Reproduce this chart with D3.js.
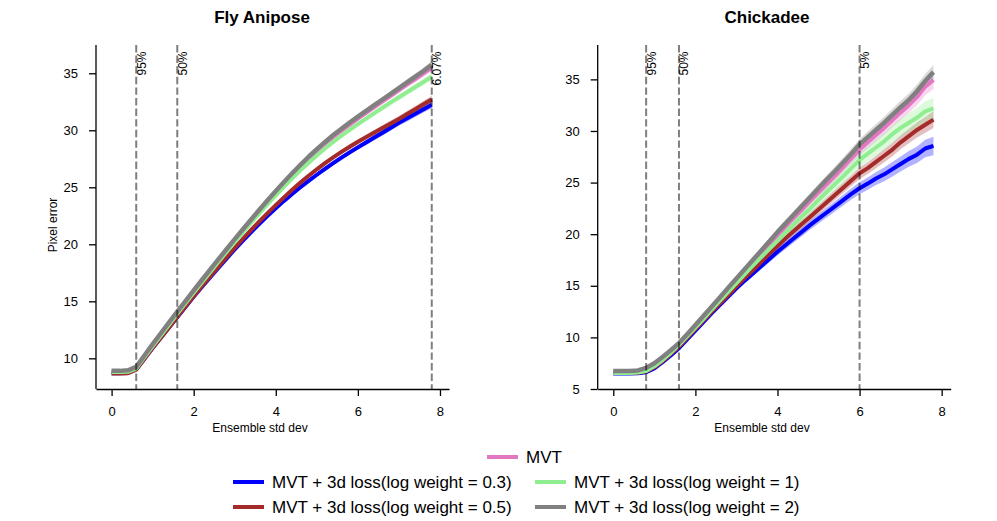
<!DOCTYPE html>
<html>
<head>
<meta charset="utf-8">
<script src="https://cdn.jsdelivr.net/npm/d3@7"></script>
<style>
body { margin: 0; background: #fff; }
svg { font-family: "Liberation Sans", Arial, sans-serif; }
</style>
</head>
<body>
<svg id="chart" width="997" height="521"></svg>
<script>
var stdDev = [0, 0.2, 0.4, 0.6, 0.8, 1.0, 1.2, 1.4, 1.6, 1.8, 2.0, 2.2, 2.4, 2.6, 2.8, 3.0, 3.2, 3.4, 3.6, 3.8,
              4.0, 4.2, 4.4, 4.6, 4.8, 5.0, 5.2, 5.4, 5.6, 5.8, 6.0, 6.2, 6.4, 6.6, 6.8, 7.0, 7.2, 7.4, 7.6, 7.8];

var seriesLabels = ["MVT", "MVT + 3d loss(log weight = 0.3)", "MVT + 3d loss(log weight = 0.5)",
                    "MVT + 3d loss(log weight = 1)", "MVT + 3d loss(log weight = 2)"];
var seriesColors = ["#e377c2", "#0000ff", "#a52a2a", "#90ee90", "#808080"];

var xTicks = [0, 2, 4, 6, 8];

// Fly Anipose
var flyMvt = [8.85, 8.85, 8.9, 9.2, 10.2, 11.2, 12.15, 13.1, 14.05, 14.97, 15.9, 16.8, 17.7, 18.6, 19.5,
              20.38, 21.24, 22.09, 22.93, 23.75, 24.55, 25.33, 26.09, 26.82, 27.52, 28.18, 28.82, 29.41, 29.96, 30.5,
              31.03, 31.53, 32.03, 32.53, 33.03, 33.53, 34.02, 34.5, 35.0, 35.5];
var flyW03 = [8.7, 8.7, 8.72, 9.02, 9.95, 10.9, 11.8, 12.7, 13.6, 14.5, 15.4, 16.25, 17.1, 17.93, 18.75,
              19.55, 20.33, 21.08, 21.8, 22.5, 23.17, 23.81, 24.42, 25.0, 25.56, 26.1, 26.62, 27.12, 27.6, 28.06,
              28.5, 28.93, 29.36, 29.79, 30.22, 30.65, 31.05, 31.45, 31.85, 32.25];
var flyW05 = [8.68, 8.68, 8.7, 9.0, 9.95, 10.9, 11.8, 12.7, 13.65, 14.55, 15.45, 16.32, 17.18, 18.03, 18.87,
              19.69, 20.49, 21.27, 22.02, 22.74, 23.44, 24.12, 24.78, 25.41, 26.01, 26.58, 27.12, 27.63, 28.11, 28.56,
              28.99, 29.4, 29.8, 30.2, 30.6, 31.0, 31.42, 31.85, 32.28, 32.7];
var flyW1 = [8.8, 8.8, 8.82, 9.1, 10.1, 11.05, 12.0, 12.95, 13.9, 14.82, 15.75, 16.66, 17.56, 18.45, 19.33,
             20.2, 21.05, 21.89, 22.71, 23.51, 24.29, 25.05, 25.78, 26.48, 27.15, 27.79, 28.4, 28.98, 29.52, 30.04,
             30.54, 31.02, 31.5, 31.98, 32.45, 32.9, 33.35, 33.8, 34.25, 34.7];
var flyW2 = [8.9, 8.9, 8.95, 9.25, 10.25, 11.25, 12.2, 13.15, 14.1, 15.02, 15.95, 16.87, 17.78, 18.68, 19.57,
             20.45, 21.32, 22.18, 23.03, 23.86, 24.67, 25.46, 26.23, 26.97, 27.68, 28.35, 28.98, 29.58, 30.14, 30.68,
             31.2, 31.7, 32.2, 32.7, 33.2, 33.7, 34.2, 34.7, 35.2, 35.75];
var flyBand = [0.06, 0.06, 0.06, 0.06, 0.07, 0.07, 0.08, 0.08, 0.09, 0.09, 0.1, 0.1, 0.11, 0.11, 0.12,
               0.12, 0.13, 0.13, 0.14, 0.14, 0.15, 0.15, 0.16, 0.16, 0.17, 0.17, 0.18, 0.18, 0.19, 0.2,
               0.21, 0.22, 0.23, 0.24, 0.25, 0.26, 0.27, 0.28, 0.3, 0.32];
var flyCutoffs = [0.6, 1.6, 7.8];
var flyCutoffLabels = ["95%", "50%", "6.07%"];
var flyYTicks = [10, 15, 20, 25, 30, 35];

// Chickadee
var chickMvt = [6.7, 6.7, 6.7, 6.75, 7.0, 7.45, 8.05, 8.7, 9.4, 10.25, 11.1, 12.0, 12.9, 13.8, 14.65,
                15.55, 16.4, 17.3, 18.15, 19.0, 19.9, 20.75, 21.6, 22.4, 23.25, 24.05, 24.85, 25.65, 26.5, 27.35,
                28.2, 28.9, 29.6, 30.3, 31.05, 31.8, 32.5, 33.3, 34.3, 34.95];
var chickW03 = [6.5, 6.5, 6.5, 6.52, 6.62, 7.0, 7.6, 8.25, 8.95, 9.8, 10.65, 11.5, 12.35, 13.15, 13.95,
                14.75, 15.5, 16.2, 16.9, 17.6, 18.3, 18.95, 19.6, 20.25, 20.9, 21.5, 22.1, 22.7, 23.3, 23.9,
                24.45, 24.9, 25.4, 25.8, 26.3, 26.8, 27.3, 27.7, 28.3, 28.55];
var chickW05 = [6.55, 6.55, 6.55, 6.58, 6.7, 7.1, 7.7, 8.4, 9.1, 9.95, 10.8, 11.65, 12.5, 13.3, 14.1,
                14.95, 15.75, 16.5, 17.3, 18.1, 18.85, 19.6, 20.3, 21.0, 21.7, 22.4, 23.1, 23.8, 24.5, 25.2,
                25.9, 26.4, 27.0, 27.6, 28.2, 28.9, 29.5, 30.1, 30.6, 31.1];
var chickW1 = [6.55, 6.55, 6.55, 6.6, 6.75, 7.2, 7.8, 8.5, 9.25, 10.1, 10.95, 11.8, 12.7, 13.55, 14.4,
               15.25, 16.1, 16.95, 17.75, 18.55, 19.35, 20.15, 20.95, 21.75, 22.5, 23.3, 24.1, 24.85, 25.6, 26.4,
               27.2, 27.8, 28.4, 29.0, 29.7, 30.3, 30.8, 31.3, 31.9, 32.2];
var chickW2 = [6.75, 6.75, 6.75, 6.8, 7.05, 7.5, 8.1, 8.75, 9.45, 10.3, 11.2, 12.1, 13.0, 13.9, 14.8,
               15.7, 16.6, 17.5, 18.4, 19.3, 20.2, 21.05, 21.9, 22.75, 23.6, 24.45, 25.3, 26.1, 26.95, 27.8,
               28.7, 29.4, 30.1, 30.8, 31.55, 32.3, 33.0, 33.85, 34.85, 35.7];
var chickBandMvt = [0.05, 0.05, 0.05, 0.05, 0.06, 0.07, 0.08, 0.1, 0.12, 0.14, 0.16, 0.18, 0.2, 0.22, 0.24,
                    0.26, 0.28, 0.3, 0.32, 0.34, 0.36, 0.38, 0.4, 0.42, 0.44, 0.46, 0.48, 0.5, 0.52, 0.55,
                    0.58, 0.6, 0.63, 0.66, 0.7, 0.73, 0.76, 0.8, 0.84, 0.88];
var chickBandW03 = [0.05, 0.05, 0.05, 0.05, 0.06, 0.07, 0.08, 0.1, 0.12, 0.14, 0.16, 0.18, 0.2, 0.22, 0.24,
                    0.26, 0.28, 0.3, 0.32, 0.34, 0.36, 0.38, 0.4, 0.42, 0.44, 0.46, 0.48, 0.5, 0.52, 0.55,
                    0.58, 0.6, 0.63, 0.66, 0.7, 0.73, 0.77, 0.8, 0.85, 0.9];
var chickBandW05 = [0.05, 0.05, 0.05, 0.05, 0.06, 0.07, 0.08, 0.09, 0.1, 0.12, 0.14, 0.16, 0.18, 0.2, 0.22,
                    0.24, 0.26, 0.28, 0.3, 0.32, 0.34, 0.36, 0.38, 0.4, 0.42, 0.44, 0.46, 0.48, 0.5, 0.52,
                    0.55, 0.57, 0.6, 0.62, 0.65, 0.68, 0.7, 0.73, 0.76, 0.8];
var chickBandW1 = [0.05, 0.05, 0.05, 0.05, 0.06, 0.07, 0.08, 0.1, 0.12, 0.14, 0.16, 0.19, 0.22, 0.25, 0.28,
                   0.3, 0.33, 0.36, 0.39, 0.42, 0.45, 0.48, 0.5, 0.53, 0.56, 0.59, 0.62, 0.65, 0.68, 0.7,
                   0.73, 0.76, 0.79, 0.82, 0.85, 0.88, 0.91, 0.94, 0.97, 1.0];
var chickBandW2 = [0.05, 0.05, 0.05, 0.05, 0.06, 0.07, 0.08, 0.09, 0.1, 0.11, 0.12, 0.14, 0.16, 0.18, 0.2,
                   0.22, 0.24, 0.26, 0.28, 0.3, 0.32, 0.34, 0.36, 0.38, 0.4, 0.42, 0.44, 0.46, 0.48, 0.5,
                   0.52, 0.54, 0.56, 0.58, 0.6, 0.62, 0.64, 0.66, 0.68, 0.7];
var chickCutoffs = [0.8, 1.6, 6.0];
var chickCutoffLabels = ["95%", "50%", "5%"];
var chickYTicks = [5, 10, 15, 20, 25, 30, 35];

var panels = [
  { title: "Fly Anipose", x0: 96, x1: 449, titleX: 262, labelX: 260, yDomain: [7.31, 37.48], yTicks: flyYTicks,
    series: [flyMvt, flyW03, flyW05, flyW1, flyW2], bands: [flyBand, flyBand, flyBand, flyBand, flyBand],
    cutoffs: flyCutoffs, cutoffLabels: flyCutoffLabels, ylabel: "Pixel error" },
  { title: "Chickadee", x0: 597.7, x1: 950.7, titleX: 767, labelX: 762, yDomain: [5, 38.33], yTicks: chickYTicks,
    series: [chickMvt, chickW03, chickW05, chickW1, chickW2],
    bands: [chickBandMvt, chickBandW03, chickBandW05, chickBandW1, chickBandW2],
    cutoffs: chickCutoffs, cutoffLabels: chickCutoffLabels, ylabel: null }
];

var plotTop = 45, plotBottom = 389;
var svg = d3.select("#chart");

function drawPanel(p) {
  var g = svg.append("g");
  var x = d3.scaleLinear().domain([-0.38, 8.22]).range([p.x0, p.x1]);
  var y = d3.scaleLinear().domain(p.yDomain).range([plotBottom, plotTop]);

  // shaded bands first, then lines
  p.series.forEach(function(s, i) {
    var area = d3.area()
      .x(function(d, j) { return x(stdDev[j]); })
      .y0(function(d, j) { return y(d - p.bands[i][j]); })
      .y1(function(d, j) { return y(d + p.bands[i][j]); });
    g.append("path").attr("d", area(s))
      .style("fill", seriesColors[i]).style("opacity", 0.3);
  });

  p.series.forEach(function(s, i) {
    var line = d3.line()
      .x(function(d, j) { return x(stdDev[j]); })
      .y(function(d) { return y(d); });
    g.append("path").attr("d", line(s))
      .style("fill", "none")
      .style("stroke", seriesColors[i])
      .style("stroke-width", i == 4 ? 4.5 : 4)
      .style("stroke-linejoin", "round");
  });

  // cutoff lines
  p.cutoffs.forEach(function(c, i) {
    g.append("line")
      .attr("x1", x(c)).attr("x2", x(c)).attr("y1", plotTop).attr("y2", plotBottom)
      .style("stroke", "#000").style("stroke-opacity", 0.5)
      .style("stroke-width", 2).style("stroke-dasharray", "7.4,3.2");
    g.append("text")
      .attr("transform", "translate(" + (x(c) + 9.5) + "," + 51.5 + ") rotate(-90)")
      .attr("text-anchor", "end")
      .style("font-size", "12px")
      .text(p.cutoffLabels[i]);
  });

  var xAxis = d3.axisBottom(x).tickValues(xTicks).tickSizeInner(7).tickSizeOuter(0).tickPadding(11);
  var yAxis = d3.axisLeft(y).tickValues(p.yTicks).tickSizeInner(7).tickSizeOuter(0).tickPadding(11);

  var gx = g.append("g").attr("transform", "translate(0," + plotBottom + ")").call(xAxis);
  var gy = g.append("g").attr("transform", "translate(" + p.x0 + ",0)").call(yAxis);
  [gx, gy].forEach(function(a) {
    a.selectAll("text").style("font-size", "13px").style("fill", "#000")
      .style("font-family", "'Liberation Sans', Arial, sans-serif");
    a.selectAll("line").style("stroke", "#000").style("stroke-width", 1.3);
    a.select(".domain").style("stroke", "#000").style("stroke-width", 1.3);
  });
  gy.select(".domain").attr("d", "M0," + plotBottom + "V" + plotTop);

  g.append("text")
    .attr("x", p.titleX).attr("y", 23)
    .attr("text-anchor", "middle")
    .style("font-size", "17px").style("font-weight", "bold")
    .text(p.title);

  g.append("text")
    .attr("x", p.labelX).attr("y", 432)
    .attr("text-anchor", "middle")
    .style("font-size", "12px")
    .text("Ensemble std dev");

  if (p.ylabel) {
    g.append("text")
      .attr("transform", "translate(57,225) rotate(-90)")
      .attr("text-anchor", "middle")
      .style("font-size", "12px")
      .text(p.ylabel);
  }
}

panels.forEach(drawPanel);

// legend
var legendPos = [[487, 457], [233, 482], [233, 507], [535, 482], [535, 507]];
var legend = svg.append("g");
seriesLabels.forEach(function(label, i) {
  var pos = legendPos[i];
  legend.append("line")
    .attr("x1", pos[0]).attr("x2", pos[0] + 31).attr("y1", pos[1]).attr("y2", pos[1])
    .style("stroke", seriesColors[i]).style("stroke-width", 4);
  legend.append("text")
    .attr("x", pos[0] + 39).attr("y", pos[1]).attr("dy", "0.35em")
    .style("font-size", "17px")
    .text(label);
});
</script>
</body>
</html>
